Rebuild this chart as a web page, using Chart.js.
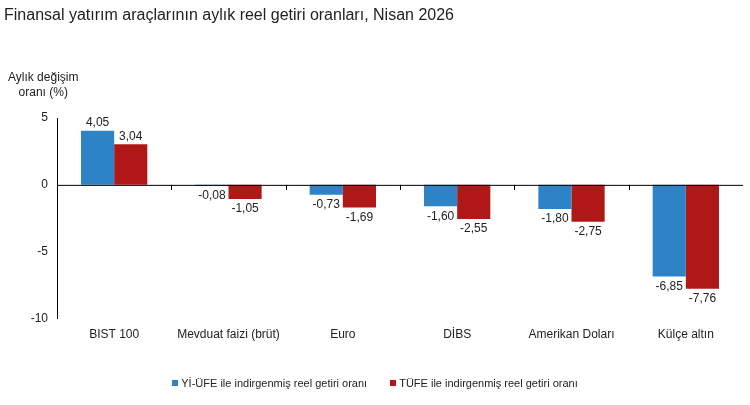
<!DOCTYPE html>
<html lang="tr">
<head>
<meta charset="UTF-8">
<title>Finansal yatırım araçlarının aylık reel getiri oranları</title>
<script src="https://cdn.jsdelivr.net/npm/chart.js"></script>
<style>
    body { margin: 0; background: #fff; font-family: "Liberation Sans", Arial, sans-serif; }
    .wrap { position: relative; width: 750px; height: 405px; }
    .title { position: absolute; left: 4px; top: 6px; font-size: 16px; color: #222; }
    .ylab { position: absolute; left: 8px; top: 70px; font-size: 12px; color: #222; text-align: center; line-height: 15px; }
    .legend { position: absolute; left: 0; width: 750px; top: 377px; text-align: center; font-size: 11px; color: #222; }
    .legend span.box { display: inline-block; width: 6px; height: 6px; margin-right: 3px; vertical-align: 1px; }
    .legend .item { margin: 0 10px; }
    canvas { position: absolute; left: 0; top: 0; }
</style>
</head>
<body>
<div class="wrap">
    <canvas id="chart" width="750" height="405"></canvas>
    <div class="title">Finansal yatırım araçlarının aylık reel getiri oranları, Nisan 2026</div>
    <div class="ylab">Aylık değişim<br>oranı (%)</div>
    <div class="legend">
        <span class="item"><span class="box" style="background:#2e83c6"></span>Yİ-ÜFE ile indirgenmiş reel getiri oranı</span>
        <span class="item"><span class="box" style="background:#b01818"></span>TÜFE ile indirgenmiş reel getiri oranı</span>
    </div>
</div>
<script>
    const categories = ['BIST 100', 'Mevduat faizi (brüt)', 'Euro', 'DİBS', 'Amerikan Doları', 'Külçe altın'];
    const yiufe = [4.05, -0.08, -0.73, -1.60, -1.80, -6.85];
    const tufe = [3.04, -1.05, -1.69, -2.55, -2.75, -7.76];
    const yTicks = [5, 0, -5, -10];

    // etiketler + sıfır çizgisi
    const extras = {
        id: 'extras',
        afterDatasetsDraw(chart) {
            const ctx = chart.ctx;
            const x = chart.scales.x, y = chart.scales.y;
            const y0 = y.getPixelForValue(0);
            ctx.save();
            ctx.strokeStyle = '#000';
            ctx.lineWidth = 1;
            ctx.beginPath();
            ctx.moveTo(x.left, y0 + 0.5);
            ctx.lineTo(x.right, y0 + 0.5);
            for (let i = 1; i < categories.length; i++) {
                const px = Math.round((x.getPixelForValue(i - 1) + x.getPixelForValue(i)) / 2) + 0.5;
                ctx.moveTo(px, y0);
                ctx.lineTo(px, y0 + 5);
            }
            ctx.stroke();
            ctx.font = '12px "Liberation Sans", Arial, sans-serif';
            ctx.fillStyle = '#222';
            ctx.textAlign = 'center';
            chart.data.datasets.forEach((ds, di) => {
                chart.getDatasetMeta(di).data.forEach((bar, i) => {
                    const v = ds.data[i];
                    const txt = v.toFixed(2).replace('.', ',');
                    if (v >= 0) {
                        ctx.textBaseline = 'bottom';
                        ctx.fillText(txt, bar.x, bar.y - 2);
                    } else {
                        ctx.textBaseline = 'top';
                        ctx.fillText(txt, bar.x, bar.y + 4);
                    }
                });
            });
            ctx.restore();
        }
    };

    new Chart(document.getElementById('chart'), {
        type: 'bar',
        data: {
            labels: categories,
            datasets: [
                { label: 'Yİ-ÜFE ile indirgenmiş reel getiri oranı', data: yiufe, backgroundColor: '#2e83c6' },
                { label: 'TÜFE ile indirgenmiş reel getiri oranı', data: tufe, backgroundColor: '#b01818' }
            ]
        },
        options: {
            responsive: false,
            animation: false,
            layout: { padding: { left: 0, right: 7, top: 118, bottom: 54 } },
            plugins: { legend: { display: false }, tooltip: { enabled: false } },
            datasets: { bar: { categoryPercentage: 0.58, barPercentage: 1 } },
            scales: {
                x: {
                    grid: { display: false, drawTicks: false },
                    border: { display: false },
                    ticks: { color: '#222', font: { size: 12, family: '"Liberation Sans", Arial, sans-serif' }, padding: 9, maxRotation: 0 }
                },
                y: {
                    min: -10, max: 5,
                    afterBuildTicks(s) { s.ticks = yTicks.map(v => ({ value: v })); },
                    afterFit(s) { s.width = 57; },
                    grid: { display: false, drawOnChartArea: false, drawTicks: true, tickLength: 5, color: '#000' },
                    border: { display: true, color: '#000' },
                    ticks: { color: '#222', font: { size: 12, family: '"Liberation Sans", Arial, sans-serif' }, padding: 4 }
                }
            }
        },
        plugins: [extras]
    });
</script>
</body>
</html>
